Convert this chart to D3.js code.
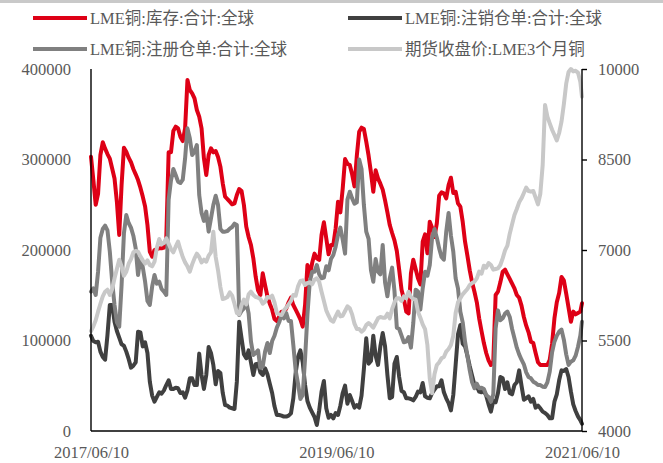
<!DOCTYPE html>
<html>
<head>
<meta charset="utf-8">
<script src="https://cdn.jsdelivr.net/npm/d3@7"></script>
<style>
  html, body { margin: 0; padding: 0; background: #fff; }
  svg { display: block; }
  text { font-family: "Liberation Serif", "Times New Roman", "Noto Sans CJK SC", serif; fill: #595959; }
</style>
</head>
<body>
<svg id="chart" width="663" height="463"></svg>
<script>
// LME copper: stocks, warrants (tonnes, left axis) and 3-month price (USD/t, right axis), weekly
const startDate = "2017-06-10";
const endDate = "2021-06-10";
const xTickLabels = ["2017/06/10", "2019/06/10", "2021/06/10"];
const leftTicks = [0, 100000, 200000, 300000, 400000];
const rightTicks = [4000, 5500, 7000, 8500, 10000];

const seriesNames = ["LME铜:库存:合计:全球", "LME铜:注销仓单:合计:全球", "LME铜:注册仓单:合计:全球", "期货收盘价:LME3个月铜"];
const seriesColors = ["#de0016", "#404040", "#808080", "#c8c8c8"];

const stocks = [
  303100, 277300, 250000, 262000, 305000, 319000, 312000, 306000, 301000, 290000,
  279000, 253400, 216600, 271800, 313000, 308600, 302000, 297000, 289500, 283600,
  277300, 268900, 259000, 248000, 227600, 198200, 192600, 200000, 201100, 201800,
  201800, 202600, 213000, 307900, 307900, 331500, 336300, 334400, 325200, 320400,
  334400, 387800, 376800, 373100, 367600, 354700, 347300, 334400, 301300, 282900,
  305000, 312300, 307900, 309400, 302800, 292100, 273700, 258900, 256300, 253400,
  250500, 251500, 260800, 267400, 265200, 249700, 225800, 214400, 205500, 190800,
  170500, 155400, 150300, 174200, 161300, 148800, 140700, 134100, 123800, 121500,
  126300, 131900, 131900, 135200, 142200, 147300, 139200, 134100, 128900, 123400,
  115300, 139200, 183400, 171600, 185600, 196000, 190800, 189000, 216600, 230600,
  212900, 195200, 205500, 205500, 224000, 253400, 241600, 268100, 300500, 295400,
  293900, 283600, 270300, 304200, 330700, 335200, 333700, 319700, 304200, 285800,
  264400, 288000, 279200, 273300, 266700, 254900, 241600, 227600, 218800, 210700,
  198900, 178300, 156200, 145900, 131900, 130000, 174200, 189300, 179000, 168700,
  162000, 209200, 217300, 196300, 231300, 224700, 214400, 229500, 260000, 263700,
  262600, 257100, 271800, 279900, 263000, 264400, 251600, 247900, 231300, 209200,
  193700, 177500, 164300, 153900, 142200, 124500, 110500, 97200, 86200, 78100,
  72900, 75900, 150300, 154000, 164300, 176000, 178300, 173100, 168000, 162800,
  157600, 150300, 147300, 138500, 126000, 116400, 109000, 98700, 97200, 86200,
  75900, 72900, 72900, 72900, 72900, 78800, 96500, 124500, 142200, 152500,
  170200, 166500, 151700, 136300, 120800, 131900, 128900, 130400, 131900, 141100
];

const cancelled = [
  105300, 99400, 98000, 98700, 87700, 81800, 78800, 106100, 139200, 139200,
  120800, 110500, 103100, 95800, 94300, 87700, 79600, 70000, 72200, 75900,
  109800, 109000, 93500, 98000, 86200, 54500, 39100, 32400, 37600, 42700,
  41300, 44900, 50800, 56000, 46400, 46400, 47900, 47200, 42000, 42700,
  36800, 44900, 58200, 58200, 50800, 50800, 85500, 61900, 46400, 61900,
  92800, 86200, 73000, 51600, 66300, 64100, 42000, 28700, 28000, 25800,
  25100, 24300, 54500, 120800, 102400, 84700, 80300, 89100, 75900, 61900,
  73700, 74400, 64800, 61900, 69300, 62600, 52300, 42000, 27300, 17700,
  17700, 17000, 15900, 15900, 17000, 19500, 36100, 64100, 81800, 89100,
  75900, 50800, 33100, 25800, 20600, 15500, 6600, 22800, 43500, 55300,
  25100, 14700, 17700, 14000, 19900, 17700, 28000, 42000, 50100, 30200,
  39800, 33100, 25800, 28700, 25800, 39100, 68500, 102400, 74400, 77400,
  105300, 83200, 73000, 93500, 108300, 93500, 61900, 36100, 37600, 74400,
  81800, 59700, 44200, 42700, 36100, 36100, 35400, 33900, 37600, 43500,
  42700, 53000, 38300, 36800, 36100, 42000, 45700, 49400, 49400, 56000,
  42700, 36100, 30900, 22800, 39800, 73000, 106800, 117100, 96500, 93500,
  83200, 71500, 61100, 50800, 49400, 43500, 42700, 44200, 39100, 29500,
  21400, 33100, 31700, 42000, 59700, 58200, 46400, 53800, 42000, 40500,
  50800, 53800, 67000, 50100, 34600, 36100, 38300, 32400, 35400, 25800,
  28000, 25100, 21400, 19900, 17700, 14000, 14000, 32400, 40500, 56000,
  67000, 66300, 68500, 59700, 43500, 29500, 22100, 16200, 12000, 8000
];

const registered = [
  154000, 157600, 150300, 176000, 213600, 223200, 226900, 221700, 198200, 165000,
  139200, 120100, 115300, 161300, 218400, 238700, 229800, 224700, 215800, 201800,
  172400, 191500, 181200, 165000, 143600, 139200, 159800, 172400, 162800, 165000,
  156900, 154000, 150300, 255600, 277000, 289500, 282900, 275500, 274000, 277700,
  301300, 334400, 323400, 305000, 308600, 316000, 260800, 240900, 232100, 242400,
  220300, 235000, 249700, 260000, 249700, 223200, 220300, 220300, 221000, 223600,
  225400, 229100, 227600, 128200, 132600, 135500, 142900, 130000, 98700, 84000,
  86200, 89100, 70000, 71100, 87700, 97200, 86200, 99400, 105300, 114200,
  120100, 128200, 124500, 130400, 121500, 121500, 95000, 67000, 52300, 35400,
  39800, 80300, 128200, 165000, 176000, 176000, 183400, 173100, 168700, 169400,
  182000, 177500, 190000, 194500, 203700, 216600, 224700, 211400, 196000, 255600,
  264400, 257100, 251200, 252700, 300000, 289500, 249700, 220300, 212200, 177900,
  165000, 190000, 176000, 173100, 205500, 164300, 148800, 168700, 180500, 154700,
  114200, 112700, 105300, 98000, 98700, 103900, 92100, 119300, 156200, 154000,
  134100, 157600, 176000, 171600, 183400, 213600, 223200, 213600, 201800, 192300,
  189300, 220300, 240900, 215800, 198200, 168700, 157600, 131900, 120100, 98700,
  83200, 67000, 53800, 47200, 52300, 47200, 47900, 46400, 39800, 37600,
  32400, 40500, 113400, 133300, 122300, 124500, 129700, 131900, 126000, 112700,
  102400, 92100, 84700, 78800, 73700, 64800, 59700, 58200, 54500, 53000,
  50800, 50800, 49000, 48600, 53800, 65600, 87000, 98700, 105300, 109800,
  112000, 100900, 84700, 73000, 76600, 78100, 83200, 92800, 105300, 120800
];

const price = [
  5657, 5734, 5834, 5978, 6110, 6232, 6309, 6342, 6254, 6353,
  6530, 6685, 6839, 6729, 6574, 6641, 6773, 6850, 6961, 6983,
  6972, 6895, 6828, 6773, 6828, 6751, 6729, 6806, 7038, 7182,
  7094, 7116, 7193, 7105, 7016, 6961, 7055, 7138, 7005, 6884,
  6795, 6729, 6641, 6762, 6861, 6939, 6884, 6795, 6839, 6806,
  6906, 6961, 7304, 6884, 6663, 6386, 6188, 6199, 6221, 6298,
  6243, 6110, 5955, 5933, 6088, 6177, 6099, 6265, 6309, 6254,
  6221, 6210, 6188, 6110, 6144, 6221, 6210, 6243, 6133, 5955,
  5933, 5922, 6000, 6044, 6099, 6155, 6254, 6243, 6397, 6486,
  6497, 6420, 6453, 6464, 6431, 6508, 6530, 6475, 6309, 6155,
  6000, 5911, 5834, 5812, 5900, 5978, 5900, 5911, 5989, 6066,
  6033, 5933, 5779, 5690, 5690, 5646, 5679, 5756, 5790, 5756,
  5712, 5790, 5867, 5889, 5878, 5878, 5944, 5867, 6022, 6133,
  6199, 6199, 6155, 6232, 6199, 6309, 6221, 6188, 6177, 5978,
  5878, 5768, 5690, 5425, 4872, 4624, 4939, 5094, 5138, 5204,
  5226, 5315, 5359, 5425, 5580, 5955, 6133, 6199, 6265, 6309,
  6353, 6420, 6453, 6475, 6530, 6641, 6607, 6740, 6707, 6784,
  6751, 6674, 6685, 6696, 6751, 6861, 6994, 7071, 7270, 7425,
  7580, 7679, 7790, 7856, 7944, 8033, 7978, 7967, 7978, 7867,
  7757, 7933, 8409, 9403, 9210, 9099, 8994, 8906, 8817, 8939,
  9127, 9414, 9757, 9950, 10000, 9960, 9970, 9940, 9790, 9541
];

// weekly sampling dates, closed by the final trading date
const parse = d3.utcParse("%Y-%m-%d");
const t0 = parse(startDate), t1 = parse(endDate);
const dates = d3.range(stocks.length - 1).map(i => d3.utcDay.offset(t0, 7 * i)).concat([t1]);

const svg = d3.select("#chart");
const W = 663, H = 463;
const plot = { left: 91, right: 582, top: 69, bottom: 431 };

svg.append("rect").attr("x", 0).attr("y", 0).attr("width", W).attr("height", 3).attr("fill", "#c9c9c9");

const x = d3.scaleUtc().domain([t0, t1]).range([plot.left, plot.right]);
const yL = d3.scaleLinear().domain([0, 400000]).range([plot.bottom, plot.top]);
const yR = d3.scaleLinear().domain([4000, 10000]).range([plot.bottom, plot.top]);

const fontSize = "16.5px";
const strokeW = 4;

// series lines: primary-axis series first, price on top
const lineL = d3.line().x((d, i) => x(dates[i])).y(d => yL(d)).curve(d3.curveLinear);
const lineR = d3.line().x((d, i) => x(dates[i])).y(d => yR(d)).curve(d3.curveLinear);

const g = svg.append("g");
[[stocks, 0], [cancelled, 1], [registered, 2]].forEach(([vals, k]) => {
  g.append("path").datum(vals).attr("d", lineL)
    .attr("fill", "none").attr("stroke", seriesColors[k])
    .attr("stroke-width", strokeW).attr("stroke-linejoin", "round").attr("stroke-linecap", "round");
});
g.append("path").datum(price).attr("d", lineR)
  .attr("fill", "none").attr("stroke", seriesColors[3])
  .attr("stroke-width", strokeW).attr("stroke-linejoin", "round").attr("stroke-linecap", "round");

// axes
const axisL = d3.axisLeft(yL).tickValues(leftTicks).tickSize(0).tickPadding(20).tickFormat(d3.format("d"));
const axisR = d3.axisRight(yR).tickValues(rightTicks).tickSize(5).tickPadding(11).tickFormat(d3.format("d"));
const axisB = d3.axisBottom(x).tickValues(xTickLabels.map(s => parse(s.replace(/\//g, "-"))))
  .tickSize(0).tickPadding(15).tickFormat((d, i) => xTickLabels[i]);

function style(sel) {
  sel.select(".domain").attr("stroke", "#000").attr("stroke-width", 1.4);
  sel.selectAll(".tick line").attr("stroke", "#000").attr("stroke-width", 1.4);
  sel.selectAll(".tick text").style("font-size", fontSize).attr("fill", "#595959")
    .style("font-family", "'Liberation Serif', 'Times New Roman', serif");
}
svg.append("g").attr("transform", `translate(${plot.left},0)`).call(axisL).call(style)
  .call(s => s.select(".domain").attr("d", `M0,${plot.top}V${plot.bottom}`));
svg.append("g").attr("transform", `translate(${plot.right},0)`).call(axisR).call(style)
  .call(s => s.select(".domain").attr("d", `M0,${plot.top}V${plot.bottom}`));
svg.append("g").attr("transform", `translate(0,${plot.bottom})`).call(axisB).call(style)
  .call(s => s.select(".domain").attr("d", `M${plot.left},0H${plot.right}`));

// legend, two rows of two
const legend = svg.append("g");
const legPos = [[33, 18], [348, 18], [33, 49], [348, 49]];
seriesNames.forEach((name, k) => {
  const [lx, ly] = legPos[k];
  legend.append("line").attr("x1", lx).attr("x2", lx + 54).attr("y1", ly).attr("y2", ly)
    .attr("stroke", seriesColors[k]).attr("stroke-width", strokeW);
  legend.append("text").attr("x", lx + 57).attr("y", ly).attr("dy", "0.35em")
    .style("font-size", fontSize).text(name);
});
</script>
</body>
</html>
